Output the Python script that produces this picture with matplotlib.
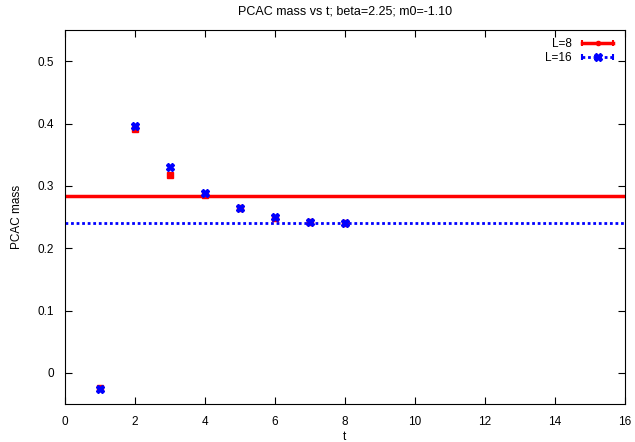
import matplotlib.pyplot as plt
from matplotlib.lines import Line2D
from matplotlib.legend_handler import HandlerLine2D
import numpy as np

t = [1, 2, 3, 4, 5, 6, 7, 8]
mass_L8 = [-0.025, 0.391, 0.317, 0.285, 0.264, 0.249, 0.242, 0.241]
mass_L16 = [-0.026, 0.396, 0.330, 0.288, 0.264, 0.250, 0.242, 0.241]
fit_L8 = 0.283
fit_L16 = 0.240

plt.rcParams['font.family'] = 'Liberation Sans'
plt.rcParams['font.size'] = 8.5

fig = plt.figure(figsize=(6.35, 4.42), dpi=100)
ax = fig.add_axes([0.102, 0.086, 0.882, 0.846])

ax.axhline(fit_L8, color='red', lw=2.5, zorder=1)
ax.axhline(fit_L16, color='blue', lw=2, ls=(0, (1, 1)), zorder=1)
ax.plot(t, mass_L8, ls='none', marker='s', ms=4, color='red', zorder=2)
ax.plot(t, mass_L16, ls='none', marker='X', ms=6, color='blue', zorder=3)

# legend samples, gnuplot style (caps at the ends, point in the middle)
r_line = Line2D([], [], color='red', lw=2.5, marker='|', ms=5, mew=1.5)
r_pt = Line2D([], [], ls='none', color='red', marker='o', ms=3)
b_line = Line2D([], [], color='blue', lw=2, ls=(0, (1, 1)), marker='|', ms=5, mew=1.5)
b_pt = Line2D([], [], ls='none', color='blue', marker='X', ms=6)
hmap = {r_line: HandlerLine2D(numpoints=2), b_line: HandlerLine2D(numpoints=2),
        r_pt: HandlerLine2D(numpoints=1), b_pt: HandlerLine2D(numpoints=1)}
ax.legend([(r_line, r_pt), (b_line, b_pt)], ['L=8', 'L=16'], handler_map=hmap,
          loc='upper right', frameon=False, markerfirst=False, handlelength=3.2,
          borderaxespad=0.3, labelspacing=0.15, handletextpad=0.6)

ax.set_xlim(0, 16)
ax.set_ylim(-0.05, 0.55)
ax.set_xticks(np.arange(0, 17, 2))
ax.set_yticks([0, 0.1, 0.2, 0.3, 0.4, 0.5])
ax.set_yticklabels(['0', '0.1', '0.2', '0.3', '0.4', '0.5'])
ax.tick_params(direction='in', top=True, right=True, length=5)
ax.tick_params(axis='x', pad=9)
ax.tick_params(axis='y', pad=8)
ax.set_xlabel('t', labelpad=2)
ax.set_ylabel('PCAC mass', labelpad=10)
ax.set_title('PCAC mass vs t; beta=2.25; m0=-1.10', fontsize=9, pad=11)

plt.savefig('out.png', dpi=100)
